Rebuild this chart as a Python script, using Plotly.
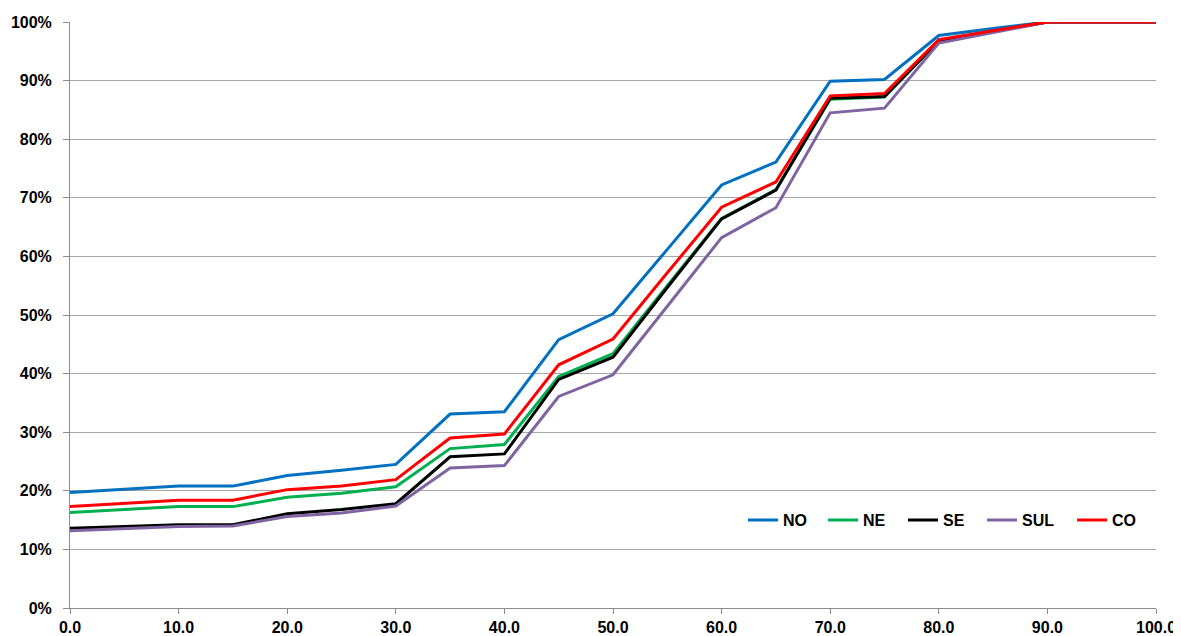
import plotly.graph_objects as go

x_vals = [0, 10, 15, 20, 25, 30, 35, 40, 45, 50, 55, 60, 65, 70, 75, 80, 85, 90, 95, 100]

no_vals  = [19.7, 20.8, 20.8, 22.6, 23.5, 24.5, 33.1, 33.5, 45.8, 50.2, 61.2, 72.2, 76.1, 89.9, 90.2, 97.7, 98.9, 100, 100, 100]
ne_vals  = [16.3, 17.3, 17.3, 18.9, 19.6, 20.7, 27.2, 27.9, 39.5, 43.4, 55.0, 66.5, 71.4, 86.8, 87.2, 96.8, 98.4, 100, 100, 100]
se_vals  = [13.6, 14.2, 14.2, 16.1, 16.8, 17.8, 25.8, 26.3, 39.0, 42.8, 54.7, 66.4, 71.3, 87.0, 87.3, 96.8, 98.4, 100, 100, 100]
sul_vals = [13.2, 13.9, 14.0, 15.6, 16.2, 17.4, 23.9, 24.3, 36.1, 39.8, 51.5, 63.2, 68.3, 84.5, 85.3, 96.4, 98.2, 100, 100, 100]
co_vals  = [17.3, 18.4, 18.4, 20.2, 20.8, 21.9, 29.0, 29.7, 41.5, 45.9, 57.2, 68.4, 72.7, 87.4, 87.8, 97.0, 98.5, 100, 100, 100]

series_names = ["NO", "NE", "SE", "SUL", "CO"]
series_vals = [no_vals, ne_vals, se_vals, sul_vals, co_vals]
series_colors = ["#0070C0", "#00B050", "#000000", "#8064A2", "#FF0000"]

x_ticks = list(range(0, 101, 10))
x_tick_labels = [f"{v:.1f}" for v in x_ticks]
y_ticks = list(range(0, 101, 10))
y_tick_labels = [f"{v}%" for v in y_ticks]

FONT = "Liberation Sans, Arial, sans-serif"
legend_ids = ["legend", "legend2", "legend3", "legend4", "legend5"]
legend_x = [0.6197, 0.6934, 0.7670, 0.8398, 0.9227]

fig = go.Figure()
for name, vals, col, lid in zip(series_names, series_vals, series_colors, legend_ids):
    fig.add_trace(go.Scatter(
        x=x_vals, y=vals, mode="lines", name=name,
        line=dict(color=col, width=3), legend=lid,
    ))

legend_style = dict(
    orientation="h", y=0.15, xanchor="left", yanchor="middle",
    font=dict(family=FONT, size=16, color="#000000", weight="bold"),
    bgcolor="rgba(0,0,0,0)", itemwidth=30,
)

# page body has an 8px margin, so the figure is sized/offset to compensate
layout_legends = {lid: dict(legend_style, x=lx) for lid, lx in zip(legend_ids, legend_x)}

fig.update_layout(
    width=1173, height=628,
    margin=dict(l=62, r=25, t=14, b=28),
    paper_bgcolor="white", plot_bgcolor="white",
    font=dict(family=FONT, size=16, color="#000000"),
    showlegend=True,
    xaxis=dict(
        range=[0, 100], tickvals=x_ticks, ticktext=x_tick_labels,
        showgrid=False, zeroline=False, automargin=False,
        showline=True, linecolor="#8C8C8C", linewidth=1,
        ticks="outside", ticklen=5, tickcolor="#8C8C8C",
        ticklabelstandoff=0,
        tickfont=dict(family=FONT, size=16, color="#000000", weight="bold"),
    ),
    yaxis=dict(
        range=[0, 100], tickvals=y_ticks, ticktext=y_tick_labels,
        showgrid=True, gridcolor="#A6A6A6", gridwidth=1, zeroline=False,
        automargin=False,
        showline=True, linecolor="#8C8C8C", linewidth=1,
        ticks="outside", ticklen=6, tickcolor="#8C8C8C",
        ticklabelstandoff=8,
        tickfont=dict(family=FONT, size=16, color="#000000", weight="bold"),
    ),
    **layout_legends,
)

fig.write_html("out.html")
